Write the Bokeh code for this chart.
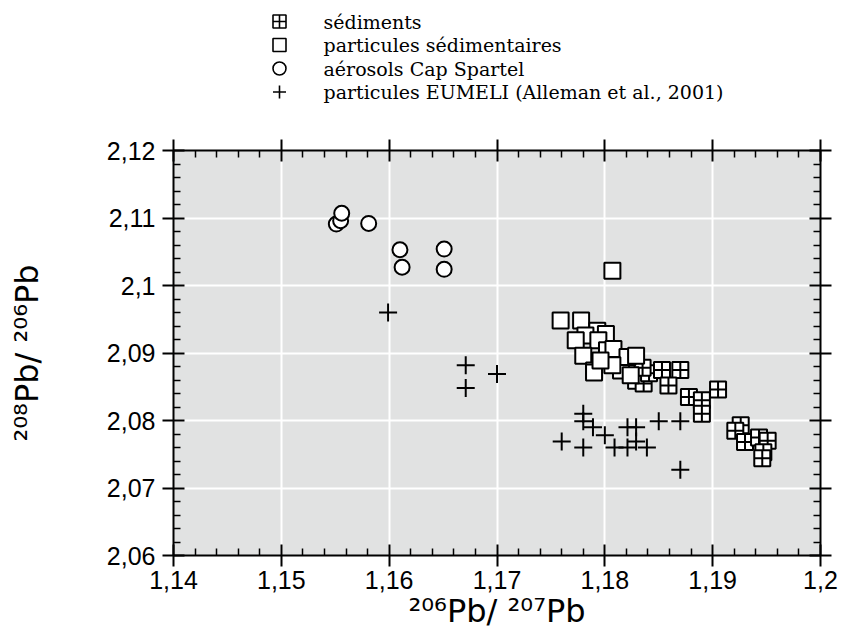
from bokeh.plotting import figure
from bokeh.layouts import column
from bokeh.core.properties import value
from bokeh.models import (Range1d, LinearAxis, FixedTicker, CustomJSTickFormatter)
from bokeh.embed import file_html
from bokeh.resources import INLINE

# ---------------- data ----------------
# sédiments
sed_x = [1.1829, 1.1836, 1.1841, 1.1835, 1.1853, 1.1870, 1.1859, 1.1878, 1.1890,
         1.1890, 1.1905, 1.1926, 1.1921, 1.1930, 1.1943, 1.1951, 1.1947, 1.1946]
sed_y = [2.0859, 2.0855, 2.0870, 2.0878, 2.0875, 2.0875, 2.0852, 2.0835, 2.0830,
         2.0810, 2.0846, 2.0793, 2.0785, 2.0768, 2.0775, 2.0770, 2.0753, 2.0744]

# particules sédimentaires
part_x = [1.1759, 1.1778, 1.1807, 1.1793, 1.1801, 1.1782, 1.1773, 1.1794, 1.1802,
          1.1808, 1.1780, 1.1790, 1.1790, 1.1815, 1.1821, 1.1829, 1.1824, 1.1807,
          1.1796]
part_y = [2.0948, 2.0948, 2.1022, 2.0933, 2.0928, 2.0926, 2.0919, 2.0919, 2.0904,
          2.0906, 2.0896, 2.0874, 2.0871, 2.0874, 2.0894, 2.0896, 2.0867, 2.0882,
          2.0889]

# aérosols Cap Spartel
aer_x = [1.1551, 1.1555, 1.1556, 1.1581, 1.1610, 1.1612, 1.1651, 1.1651]
aer_y = [2.1091, 2.1096, 2.1107, 2.1092, 2.1053, 2.1027, 2.1054, 2.1024]

# particules EUMELI (Alleman et al., 2001)
eum_x = [1.1599, 1.1671, 1.1671, 1.1700, 1.1780, 1.1780, 1.1789, 1.1800, 1.1760,
         1.1780, 1.1809, 1.1821, 1.1829, 1.1829, 1.1821, 1.1839, 1.1850, 1.1870,
         1.1870]
eum_y = [2.0960, 2.0882, 2.0848, 2.0869, 2.0810, 2.0799, 2.0790, 2.0778, 2.0769,
         2.0760, 2.0760, 2.0790, 2.0790, 2.0769, 2.0760, 2.0760, 2.0799, 2.0799,
         2.0727]

x_ticks = [1.14, 1.15, 1.16, 1.17, 1.18, 1.19, 1.2]
y_ticks = [2.06, 2.07, 2.08, 2.09, 2.1, 2.11, 2.12]

legend_labels = ["sédiments", "particules sédimentaires", "aérosols Cap Spartel",
                 "particules EUMELI (Alleman et al., 2001)"]
legend_markers = ["square_cross", "square", "circle", "cross"]
x_title = "²⁰⁶Pb/ ²⁰⁷Pb"
y_title = "²⁰⁸Pb/ ²⁰⁶Pb"

# ---------------- layout constants ----------------
LEFT, RIGHT = 173, 20
FRAME_W, FRAME_H = 647, 405
LEG_H = 110
TOP = 150 - LEG_H
BOTTOM = 81

# ---------------- legend strip (page-pixel coordinates) ----------------
leg = figure(frame_width=FRAME_W, frame_height=LEG_H,
             min_border_left=LEFT, min_border_right=RIGHT,
             min_border_top=0, min_border_bottom=0,
             x_range=Range1d(LEFT, LEFT + FRAME_W), y_range=Range1d(LEG_H, 0),
             x_axis_type=None, y_axis_type=None,
             output_backend="svg", toolbar_location=None,
             outline_line_color=None, background_fill_color="white",
             border_fill_color="white")
leg.grid.visible = False
row_y = [21 + 23.5 * i for i in range(len(legend_labels))]
leg.scatter([279] * len(row_y), row_y, marker=legend_markers, size=13,
            fill_color="white", line_color="black", line_width=1.6)
leg.text([323] * len(row_y), row_y, text=legend_labels,
         text_baseline="middle", text_align="left",
         text_font=value("DejaVu Serif"), text_font_size="19px", text_color="black")

# ---------------- main figure ----------------
def minor_of(ticks):
    out = []
    for a, b in zip(ticks[:-1], ticks[1:]):
        for k in range(1, 5):
            out.append(a + (b - a) * k / 5)
    return out

p = figure(frame_width=FRAME_W, frame_height=FRAME_H,
           min_border_left=LEFT, min_border_top=TOP,
           min_border_right=RIGHT, min_border_bottom=BOTTOM,
           x_range=Range1d(x_ticks[0], x_ticks[-1]),
           y_range=Range1d(y_ticks[0], y_ticks[-1]),
           output_backend="svg", toolbar_location=None,
           background_fill_color="#e1e2e2", border_fill_color="white",
           outline_line_color=None)

fmt = CustomJSTickFormatter(code="return String(parseFloat(tick.toFixed(3))).replace('.', ',');")
blank = CustomJSTickFormatter(code="return '';")

xt = FixedTicker(ticks=x_ticks, minor_ticks=minor_of(x_ticks))
yt = FixedTicker(ticks=y_ticks, minor_ticks=minor_of(y_ticks))

p.add_layout(LinearAxis(), "right")
p.add_layout(LinearAxis(), "above")

bottom = p.below[0]
left = p.left[0]
right = p.right[0]
top = p.above[0]

for ax in (bottom, top):
    ax.ticker = xt
for ax in (left, right):
    ax.ticker = yt

for ax in (bottom, top, left, right):
    ax.axis_line_width = 2
    ax.axis_line_color = "black"
    ax.major_tick_line_width = 2
    ax.major_tick_line_color = "black"
    ax.minor_tick_line_width = 1.5
    ax.minor_tick_line_color = "black"
    ax.major_tick_in = 11
    ax.major_tick_out = 11
    ax.minor_tick_in = 7
    ax.minor_tick_out = 0
    ax.major_label_text_font = "Liberation Sans"
    ax.major_label_text_font_size = "25px"
    ax.major_label_text_color = "black"
    ax.axis_label_text_font = "DejaVu Sans"
    ax.axis_label_text_font_size = "32px"
    ax.axis_label_text_font_style = "normal"
    ax.axis_label_text_color = "black"

bottom.formatter = fmt
left.formatter = fmt
right.formatter = blank
top.formatter = blank
right.major_label_standoff = 0
top.major_label_standoff = 0

bottom.axis_label = x_title
left.axis_label = y_title
bottom.major_label_standoff = 4
left.major_label_standoff = 7
bottom.axis_label_standoff = 0
left.axis_label_standoff = 58

p.grid.grid_line_color = "white"
p.grid.grid_line_width = 2
for g in p.grid:
    g.ticker = xt if g.dimension == 0 else yt

# ---------------- glyphs ----------------
p.scatter(sed_x, sed_y, marker="square_cross", size=16,
          fill_color="white", line_color="black", line_width=2)
p.scatter(part_x, part_y, marker="square", size=16,
          fill_color="white", line_color="black", line_width=2)
p.scatter(aer_x, aer_y, marker="circle", size=15,
          fill_color="white", line_color="black", line_width=2)
p.scatter(eum_x, eum_y, marker="cross", size=18,
          line_color="black", line_width=2)

layout = column(leg, p, spacing=0)
open("out.html", "w").write(file_html(layout, INLINE))
